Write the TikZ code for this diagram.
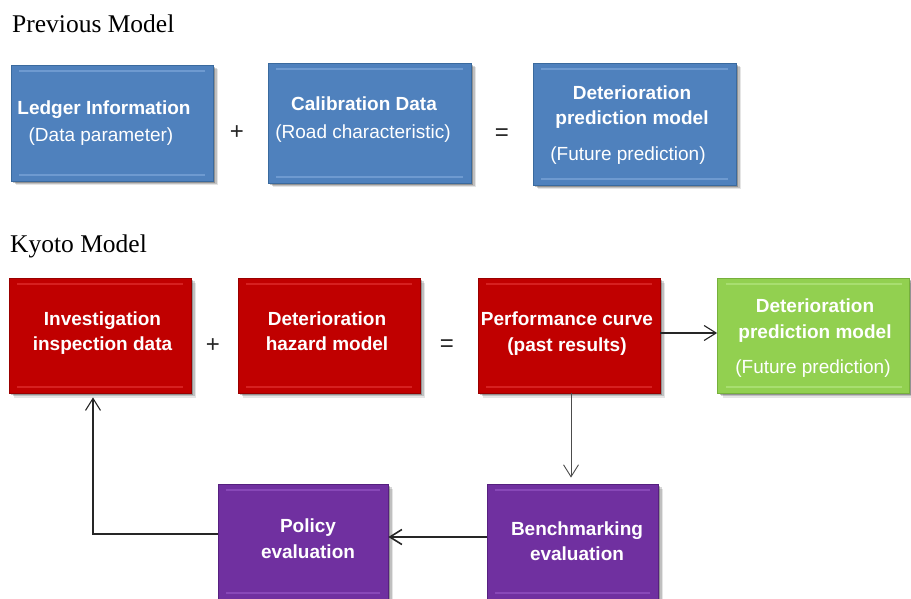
\documentclass[tikz,border=0pt]{standalone}
\usepackage{fontspec}
\setmainfont{Liberation Serif}
\newfontfamily\arialf{Liberation Sans}
\usetikzlibrary{arrows.meta,calc,shadows}
\definecolor{bfill}{HTML}{4F81BD}
\definecolor{bdraw}{HTML}{3A6A9E}
\definecolor{bhl}{HTML}{6E9AD0}
\definecolor{rfill}{HTML}{C00000}
\definecolor{rdraw}{HTML}{990000}
\definecolor{rhl}{HTML}{D62020}
\definecolor{gfill}{HTML}{92D050}
\definecolor{gdraw}{HTML}{76B03C}
\definecolor{ghl}{HTML}{A8DE70}
\definecolor{pfill}{HTML}{7030A0}
\definecolor{pdraw}{HTML}{56207F}
\definecolor{phl}{HTML}{8848B8}
\tikzset{
  box/.style n args={3}{rectangle, draw=#2, line width=0.8pt, fill=#1, inner sep=0pt,
    drop shadow={shadow xshift=5pt, shadow yshift=-4.5pt, fill=black, opacity=0.10},
    drop shadow={shadow xshift=3.5pt, shadow yshift=-3pt, fill=black, opacity=0.16},
    drop shadow={shadow xshift=2pt, shadow yshift=-1.7pt, fill=black, opacity=0.24},
    path picture={
      \draw[#3, line width=1.8pt] ([xshift=8pt,yshift=-6pt]path picture bounding box.north west) -- ([xshift=-8pt,yshift=-6pt]path picture bounding box.north east);
      \draw[#3, line width=1.8pt] ([xshift=8pt,yshift=6pt]path picture bounding box.south west) -- ([xshift=-8pt,yshift=6pt]path picture bounding box.south east);
    }},
  bluebox/.style={box={bfill}{bdraw}{bhl}},
  redbox/.style={box={rfill}{rdraw}{rhl}},
  greenbox/.style={box={gfill}{gdraw}{ghl}},
  purplebox/.style={box={pfill}{pdraw}{phl}},
  txt/.style={font=\arialf\fontsize{19}{22}\selectfont, text=white, anchor=base, inner sep=0pt},
  btxt/.style={txt, font=\arialf\bfseries\fontsize{19}{22}\selectfont},
  title/.style={font=\fontsize{25.5}{30}\selectfont, anchor=base west, inner sep=0pt, text=black},
  op/.style={font=\arialf\fontsize{24}{28}\selectfont, inner sep=0pt, text=black!85},
  arr/.style={draw=black!85, line width=1.1pt, -{Straight Barb[length=12pt,width=15pt]}}
}
\begin{document}
\begin{tikzpicture}[x=1pt,y=-1pt]
\useasboundingbox (0,0) rectangle (911,599);
\fill[white] (0,0) rectangle (911,599);

% titles
\node[title] (prev) at (12,33) {Previous Model};
\node[title] (kyoto) at (10,252) {Kyoto Model};

% previous model boxes
\node[bluebox, minimum width=202pt, minimum height=116pt] (b1) at (112,123) {};
\node[bluebox, minimum width=203pt, minimum height=120pt] (b2) at (369.5,123) {};
\node[bluebox, minimum width=203pt, minimum height=122pt] (b3) at (634.5,124) {};
\node[btxt] (b1a) at (104,115) {Ledger Information};
\node[txt]  (b1b) at (101,142) {(Data parameter)};
\node[btxt] (b2a) at (364,111) {Calibration Data};
\node[txt]  (b2b) at (363,139) {(Road characteristic)};
\node[btxt] (b3a) at (632,100) {Deterioration};
\node[btxt] (b3b) at (632,125) {prediction model};
\node[txt]  (b3c) at (628,161) {(Future prediction)};
\node[op] (plus1) at (237,133) {+};
\node[op] (eq1) at (502,135) {=};

% kyoto model boxes
\node[redbox, minimum width=182pt, minimum height=115pt] (r1) at (100,335.5) {};
\node[redbox, minimum width=182pt, minimum height=115pt] (r2) at (329,335.5) {};
\node[redbox, minimum width=182pt, minimum height=115pt] (r3) at (569,335.5) {};
\node[greenbox, minimum width=192pt, minimum height=115pt] (g) at (813.5,335.5) {};
\node[purplebox, minimum width=170pt, minimum height=115pt] (pol) at (303,541.5) {};
\node[purplebox, minimum width=171pt, minimum height=115pt] (ben) at (572.5,541.5) {};

\node[btxt] (r1a) at (102.5,325) {Investigation};
\node[btxt] (r1b) at (102.5,350) {inspection data};
\node[btxt] (r2a) at (327,325) {Deterioration};
\node[btxt] (r2b) at (327,350) {hazard model};
\node[btxt] (r3a) at (567,325) {Performance curve};
\node[btxt] (r3b) at (567,351) {(past results)};
\node[btxt] (ga) at (815,312) {Deterioration};
\node[btxt] (gb) at (815,338) {prediction model};
\node[txt]  (gc) at (813,373) {(Future prediction)};
\node[btxt] (pa) at (308,532) {Policy};
\node[btxt] (pb) at (308,558) {evaluation};
\node[btxt] (ba) at (577,535) {Benchmarking};
\node[btxt] (bb) at (577,560) {evaluation};
\node[op] (plus2) at (213,346) {+};
\node[op] (eq2) at (447,346) {=};

% connectors
\draw[arr] ([yshift=2.5pt]r3.east) -- ([yshift=2.5pt]g.west);
\draw[arr, draw=black!70, line width=0.9pt, shorten >=6pt] ([xshift=2pt]r3.south) -- ([xshift=2pt]r3.south |- ben.north);
\draw[arr, line width=1.6pt] ([yshift=4.5pt]ben.west) -- ([yshift=4.5pt]pol.east);
\coordinate (up) at ($(r1.south)+(-7,0)$);
\draw[arr, shorten >=4pt] ([yshift=7.5pt]pol.west) -| (up);
\end{tikzpicture}
\end{document}
